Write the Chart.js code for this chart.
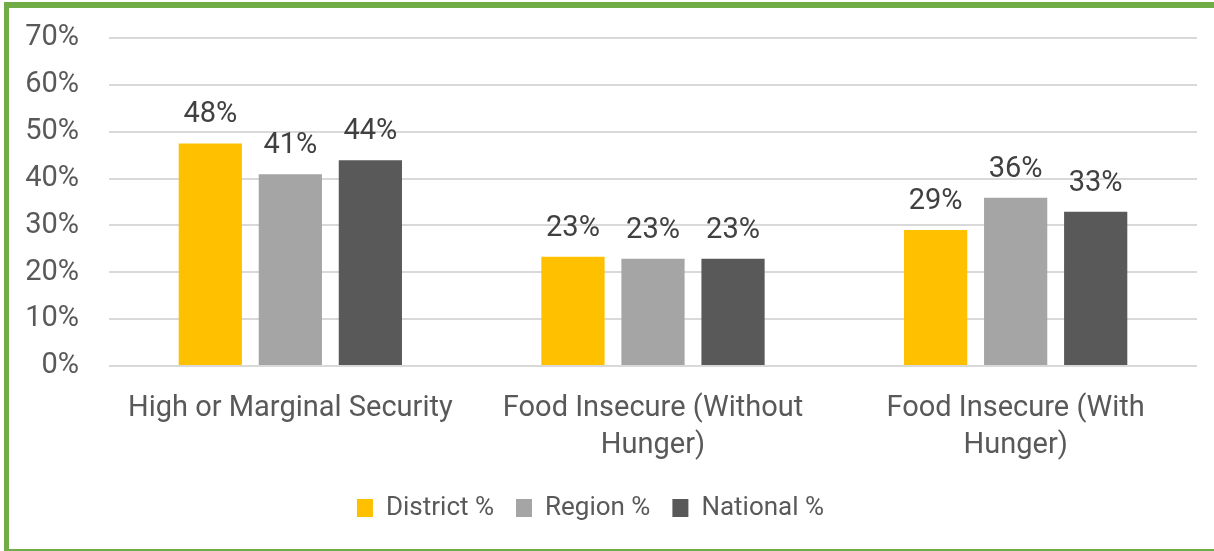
<!DOCTYPE html>
<html><head><meta charset="utf-8">
<script src="https://cdn.jsdelivr.net/npm/chart.js@4.4.0/dist/chart.umd.min.js"></script>
<style>
html,body{margin:0;padding:0;background:#fff;overflow:hidden;width:1214px;height:551px}
#frame{position:absolute;left:4px;top:2px;width:1240px;height:553px;border-style:solid;border-color:#70ad47;border-width:6px 6px 6px 5px;box-sizing:border-box}
#wrap{position:absolute;left:0;top:0;width:1214px;height:551px}
</style></head><body>
<div id="frame"></div>
<div id="wrap"><canvas id="c" width="1214" height="551"></canvas></div>
<script>
const categories = ['High or Marginal Security', ['Food Insecure (Without', 'Hunger)'], ['Food Insecure (With', 'Hunger)']];
const seriesNames = ['District %', 'Region %', 'National %'];
const districtValues = [47.5, 23.3, 29.0];
const regionValues = [40.9, 22.9, 35.9];
const nationalValues = [43.9, 22.9, 32.9];
const yTicks = [0, 10, 20, 30, 40, 50, 60, 70];
const colors = ['#ffc000', '#a5a5a5', '#595959'];

const FONT = 'Roboto';

const valueLabels = {
  id: 'valueLabels',
  afterDatasetsDraw(chart) {
    const ctx = chart.ctx;
    ctx.save();
    ctx.font = '29px ' + FONT;
    ctx.fillStyle = '#404040';
    ctx.textAlign = 'center';
    ctx.textBaseline = 'alphabetic';
    chart.data.datasets.forEach((ds, di) => {
      const meta = chart.getDatasetMeta(di);
      meta.data.forEach((bar, i) => {
        ctx.fillText(Math.round(ds.data[i]) + '%', bar.x, bar.y - 21);
      });
    });
    ctx.restore();
  }
};

const legendShift = {
  id: 'legendShift',
  afterLayout(chart) {
    chart.legend.left -= 8;
    chart.legend.right -= 8;
  }
};

new Chart(document.getElementById('c'), {
  type: 'bar',
  data: {
    labels: categories,
    datasets: [
      { label: seriesNames[0], data: districtValues, backgroundColor: colors[0] },
      { label: seriesNames[1], data: regionValues, backgroundColor: colors[1] },
      { label: seriesNames[2], data: nationalValues, backgroundColor: colors[2] }
    ]
  },
  options: {
    responsive: false,
    devicePixelRatio: 1,
    animation: false,
    layout: { padding: { top: 38, right: 17, left: 0, bottom: 20 } },
    datasets: { bar: { categoryPercentage: 0.662, barPercentage: 0.79 } },
    scales: {
      x: {
        grid: { display: false, drawTicks: false },
        border: { display: false },
        ticks: { color: '#595959', font: { family: FONT, size: 29, lineHeight: 1.25 }, padding: 25, maxRotation: 0, autoSkip: false },
        afterFit(s) { s.height = 107; }
      },
      y: {
        min: 0, max: 70,
        afterBuildTicks(s) { s.ticks = yTicks.map(v => ({ value: v })); },
        grid: { color: '#d9d9d9', lineWidth: 2, drawTicks: false },
        border: { display: false },
        ticks: { color: '#595959', font: { family: FONT, size: 29, lineHeight: 0.5 }, padding: 30, callback: v => v + '%' },
        afterFit(s) { s.width = 109; }
      }
    },
    plugins: {
      legend: {
        position: 'bottom',
        labels: { boxWidth: 16, boxHeight: 18, padding: 22, color: '#595959', font: { family: FONT, size: 26 } }
      },
      tooltip: { enabled: false }
    }
  },
  plugins: [valueLabels, legendShift]
});
</script>
</body></html>
